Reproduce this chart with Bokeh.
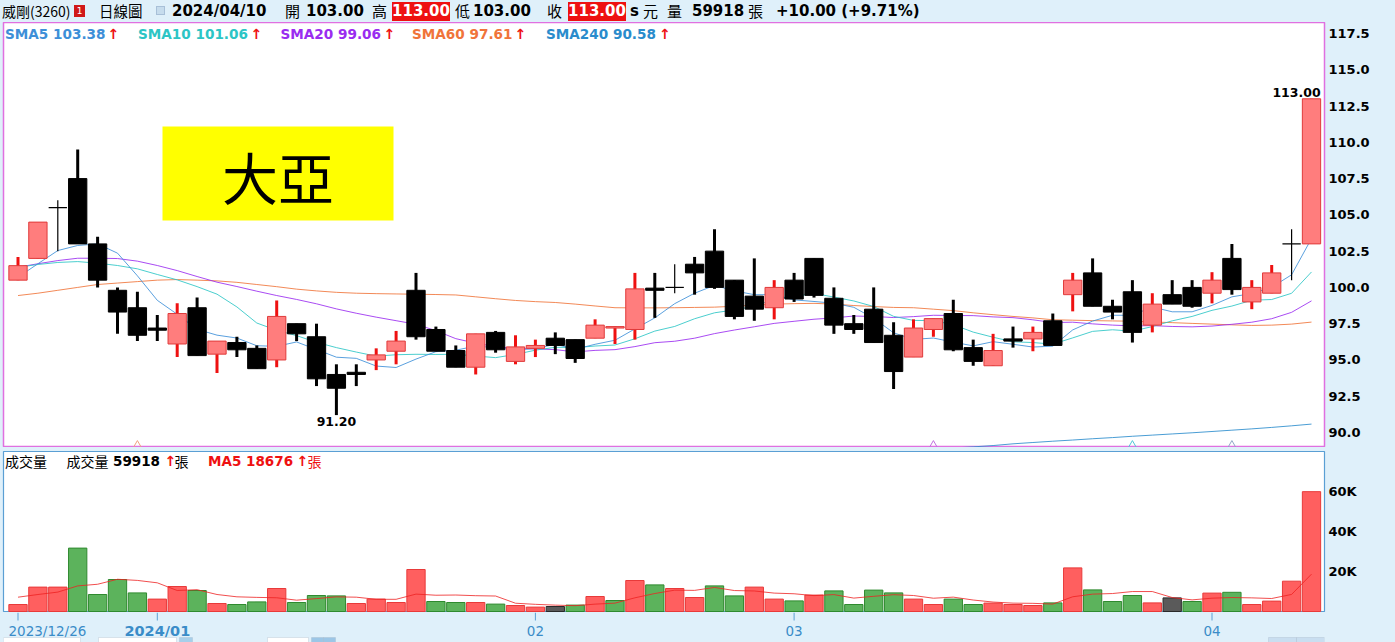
import numpy as np
import pandas as pd
from bokeh.plotting import figure
from bokeh.models import (ColumnDataSource, Range1d, FixedTicker, Label,
                          BoxAnnotation, Div, PrintfTickFormatter)
from bokeh.layouts import column
from bokeh.embed import file_html
from bokeh.resources import INLINE
from bokeh.core.properties import value

# ---------------- data ----------------
opens = [100.5, 102.0, 105.5, 107.5, 103.0, 99.8, 98.6, 97.2, 96.1, 98.6,
         95.4, 96.2, 95.8, 95.0, 97.5, 96.6, 94.0, 94.15, 95.0, 95.6,
         99.8, 97.1, 95.65, 94.5, 96.9, 94.9, 95.8, 96.5, 96.4, 96.5,
         97.2, 97.1, 99.95, 100.0, 101.6, 102.5, 100.5, 99.4, 98.6, 100.5,
         102.0, 99.25, 97.5, 98.5, 96.7, 95.2, 97.1, 98.2, 95.85, 94.6,
         96.45, 96.45, 97.7, 99.5, 101.0, 98.7, 99.7, 97.4, 99.5, 100.0,
         99.6, 102.0, 99.0, 99.6, 103.0, 103.0]
highs = [102.1, 104.5, 106.0, 109.5, 103.5, 100.0, 99.7, 98.1, 98.9, 99.3,
         96.3, 96.6, 96.0, 99.1, 97.5, 97.5, 94.7, 94.7, 95.8, 97.0,
         101.0, 97.3, 96.0, 96.8, 97.0, 96.7, 96.4, 96.9, 96.4, 97.8,
         97.3, 101.0, 101.0, 101.6, 102.1, 104.0, 100.5, 102.0, 100.5, 101.0,
         102.0, 100.0, 98.1, 100.0, 97.6, 97.8, 97.85, 99.15, 96.4, 96.8,
         97.3, 97.3, 98.2, 101.0, 102.0, 99.15, 100.5, 99.6, 100.5, 100.5,
         101.05, 103.0, 100.5, 101.55, 104.0, 113.0]
lows = [100.5, 102.0, 102.5, 103.0, 100.0, 96.8, 96.3, 96.3, 95.2, 95.3,
        94.1, 95.2, 94.4, 94.5, 96.3, 93.2, 91.2, 93.2, 94.3, 94.7,
        96.4, 95.6, 94.5, 94.0, 95.5, 94.7, 95.2, 95.4, 94.8, 96.5,
        96.1, 96.4, 97.9, 99.6, 99.5, 99.9, 97.8, 97.7, 97.8, 99.0,
        99.3, 96.8, 96.8, 96.2, 93.0, 95.2, 96.6, 95.6, 94.6, 94.6,
        95.85, 95.6, 96.0, 98.35, 98.7, 97.8, 96.2, 96.9, 98.85, 98.6,
        98.9, 99.5, 98.5, 99.6, 100.5, 103.0]
closes = [101.5, 104.5, 105.5, 103.0, 100.5, 98.3, 96.7, 97.05, 98.2, 95.3,
          96.3, 95.7, 94.4, 98.0, 96.8, 93.7, 93.05, 94.0, 95.35, 96.3,
          96.6, 95.6, 94.5, 96.8, 95.7, 95.9, 96.0, 96.0, 95.1, 97.4,
          97.3, 99.9, 99.8, 100.0, 101.0, 100.0, 98.0, 98.5, 100.0, 99.2,
          99.45, 97.4, 97.1, 96.2, 94.2, 97.2, 97.85, 95.7, 94.9, 95.65,
          96.3, 96.9, 96.0, 100.5, 98.7, 98.3, 96.9, 98.85, 98.85, 98.7,
          100.5, 99.85, 100.0, 101.0, 103.0, 113.0]
volumes = [3500, 12200, 12200, 31700, 8500, 16000, 9300, 6200, 12500, 10500,
           4000, 3500, 4800, 11500, 4500, 8000, 7800, 4000, 6200, 4500,
           21000, 5000, 4500, 4500, 3700, 3000, 2200, 2500, 3200, 7500,
           5500, 15500, 13300, 11500, 7000, 12800, 7800, 12200, 6200, 5300,
           8200, 10300, 3500, 10700, 9300, 6200, 3500, 6200, 3500, 4200,
           3500, 3000, 4300, 21800, 10800, 5000, 8000, 4300, 6800, 5000,
           9200, 9600, 3500, 5200, 15162, 59918]

# moving-average values before enough in-chart history exists
sma5_head = [100.70, 101.63, 102.54, 102.89]
sma10_head = [101.39, 101.58, 101.72, 101.78, 101.67, 101.51, 101.28, 100.89, 100.52]
sma20_head = [101.39, 101.63, 101.85, 102.01, 102.01, 101.99, 101.81, 101.51, 101.16,
              100.75, 100.36, 100.06, 99.74, 99.44, 99.17, 98.87, 98.52, 98.22, 97.95]
vol_ma5_head = [7150, 8500, 9700, 12800]
sma60 = [99.44, 99.6, 99.8, 100.0, 100.2, 100.3, 100.4, 100.5, 100.54, 100.5,
         100.45, 100.35, 100.2, 100.05, 99.88, 99.76, 99.66, 99.6, 99.57, 99.55,
         99.53, 99.51, 99.48, 99.35, 99.22, 99.1, 99.02, 98.96, 98.85, 98.72,
         98.6, 98.59, 98.59, 98.6, 98.62, 98.64, 98.7, 98.78, 98.85, 98.88,
         98.9, 98.85, 98.75, 98.68, 98.62, 98.6, 98.5, 98.4, 98.25, 98.12,
         98.0, 97.9, 97.77, 97.74, 97.71, 97.69, 97.67, 97.62, 97.57, 97.52,
         97.47, 97.42, 97.38, 97.40, 97.47, 97.61]
sma240_visible = [88.93, 89.01, 89.10, 89.22, 89.31, 89.40, 89.48, 89.57, 89.65, 89.74,
                  89.82, 89.90, 89.98, 90.07, 90.16, 90.25, 90.35, 90.46, 90.58]

legend_names = ["SMA5", "SMA10", "SMA20", "SMA60", "SMA240"]
legend_values = [103.38, 101.06, 99.06, 97.61, 90.58]
vol_ma5_last = 18676

marker_idx = [6, 46, 56, 61]
price_ticks = [90.0, 92.5, 95.0, 97.5, 100.0, 102.5, 105.0, 107.5, 110.0, 112.5, 115.0, 117.5]
vol_ticks = [20000, 40000, 60000]
vol_tick_labels = ["20K", "40K", "60K"]
date_tick_idx = [0, 7, 26, 39, 60]
date_tick_labels = ["2023/12/26", "2024/01", "02", "03", "04"]
last_date = "2024/04/10"

# ---------------- styling ----------------
BG = "#dff0fa"
NUM = "DejaVu Sans"
CJK = "Noto Sans CJK TC"
SMA_COLORS = ["#3d8fd8", "#2cc5c5", "#9a2cf0", "#f0743a", "#2a8ccc"]
MARKER_COLORS = ["#f0a080", "#c070e0", "#50c8d8", "#90a8c8"]
ARROW = "#ee1111"
AXIS_BLUE = "#3a8cc8"


def px2x(px):
    return (px - 17.5) / 19.9


def py2p(py):
    return 90 + (432 - py) / 14.509


def py2v(py):
    return (611 - py) * 500


n = len(closes)
idx = list(range(n))


def rolling_with_head(vals, window, head):
    s = pd.Series(vals, dtype=float).rolling(window).mean().tolist()
    for i, h in enumerate(head):
        s[i] = h
    return s


sma5 = rolling_with_head(closes, 5, sma5_head)
sma10 = rolling_with_head(closes, 10, sma10_head)
sma20 = rolling_with_head(closes, 20, sma20_head)
vol_ma5 = rolling_with_head(volumes, 5, vol_ma5_head)
sma240 = [np.nan] * (n - len(sma240_visible)) + sma240_visible

x_range = Range1d(px2x(3), px2x(1324))

# ---------------- price panel ----------------
p = figure(width=1395, height=425, x_range=x_range,
           y_range=Range1d(py2p(447), py2p(22)),
           x_axis_location=None, y_axis_location="right",
           toolbar_location=None, output_backend="svg",
           min_border_left=3, min_border_right=71, min_border_top=0, min_border_bottom=0)
p.background_fill_color = "white"
p.border_fill_color = BG
p.outline_line_color = "#e070e0"
p.outline_line_width = 1.5
p.xgrid.visible = False
p.ygrid.visible = False
ax = p.yaxis[0]
ax.ticker = FixedTicker(ticks=price_ticks)
ax.formatter = PrintfTickFormatter(format="%.1f")
ax.axis_line_color = None
ax.major_tick_line_color = None
ax.minor_tick_line_color = None
ax.major_tick_out = 0
ax.major_tick_in = 0
ax.major_label_standoff = 4
ax.major_label_text_font = NUM
ax.major_label_text_font_style = "bold"
ax.major_label_text_font_size = "13px"
ax.major_label_text_color = "#000000"

# yellow annotation box
p.add_layout(BoxAnnotation(left=px2x(162), right=px2x(393), top=py2p(126), bottom=py2p(220),
                           fill_color="#ffff00", fill_alpha=1.0, line_color=None, level="underlay"))
p.add_layout(Label(x=px2x(277.5), y=py2p(175), text="大亞", text_font=CJK,
                   text_font_size="56px", text_align="center", text_baseline="middle",
                   text_color="#000000"))

# moving average lines
for vals, col in zip([sma60, sma240, sma20, sma10, sma5],
                     [SMA_COLORS[3], SMA_COLORS[4], SMA_COLORS[2], SMA_COLORS[1], SMA_COLORS[0]]):
    p.line(idx, vals, line_color=col, line_width=1, line_alpha=0.85)

up_i = [i for i in idx if closes[i] > opens[i]]
dn_i = [i for i in idx if closes[i] < opens[i]]
dj_i = [i for i in idx if closes[i] == opens[i]]


def sub(ids):
    return dict(x=ids, o=[opens[i] for i in ids], c=[closes[i] for i in ids],
                h=[highs[i] for i in ids], l=[lows[i] for i in ids],
                x0=[i - 0.46 for i in ids], x1=[i + 0.46 for i in ids])


up_src = ColumnDataSource(sub(up_i))
dn_src = ColumnDataSource(sub(dn_i))
dj_src = ColumnDataSource(sub(dj_i))

BW = 0.92
p.segment(x0="x", y0="l", x1="x", y1="h", source=up_src, line_color="#ee1111", line_width=3)
p.vbar(x="x", width=BW, bottom="o", top="c", source=up_src,
       fill_color="#ff7d7d", line_color="#e03a3a", line_width=1)
p.segment(x0="x", y0="l", x1="x", y1="h", source=dn_src, line_color="#000000", line_width=3)
p.vbar(x="x", width=BW, bottom="o", top="c", source=dn_src,
       fill_color="#000000", line_color="#000000", line_width=1)
p.segment(x0="x", y0="l", x1="x", y1="h", source=dj_src, line_color="#000000", line_width=1.2)
p.segment(x0="x0", y0="c", x1="x1", y1="c", source=dj_src, line_color="#000000", line_width=1.2)

# bottom chevron markers
p.scatter(x=marker_idx, y=[py2p(447)] * len(marker_idx), marker="triangle", size=12,
          fill_color=None, line_color=MARKER_COLORS, line_width=1)

# high / low labels
hi_i = int(np.argmax(highs))
lo_i = int(np.argmin(lows))
p.add_layout(Label(x=hi_i + 0.46, y=highs[hi_i] + 0.15, text=f"{highs[hi_i]:.2f}",
                   text_font=NUM, text_font_style="bold", text_font_size="12.5px",
                   text_align="right", text_baseline="bottom", text_color="#000000"))
p.add_layout(Label(x=lo_i, y=lows[lo_i] - 0.1, text=f"{lows[lo_i]:.2f}",
                   text_font=NUM, text_font_style="bold", text_font_size="12.5px",
                   text_align="center", text_baseline="top", text_color="#000000"))

# SMA legend row
leg_px = [4.5, 137.5, 280, 411.5, 545.5]
arrow_px = [107, 250, 383, 514, 658.5]
for name, val, col, lx, axp in zip(legend_names, legend_values, SMA_COLORS, leg_px, arrow_px):
    p.add_layout(Label(x=px2x(lx), y=py2p(33), text=f"{name} {val:.2f}", text_font=NUM,
                       text_font_style="bold", text_font_size="13.6px", text_color=col,
                       text_align="left", text_baseline="middle"))
    p.add_layout(Label(x=px2x(axp), y=py2p(33), text="↑", text_font=NUM,
                       text_font_style="bold", text_font_size="14px", text_color=ARROW,
                       text_align="left", text_baseline="middle"))

# ---------------- volume panel ----------------
v = figure(width=1395, height=165, x_range=x_range,
           y_range=Range1d(py2v(612), py2v(451)),
           x_axis_location=None, y_axis_location="right",
           toolbar_location=None, output_backend="svg",
           min_border_left=3, min_border_right=71, min_border_top=4, min_border_bottom=0)
v.background_fill_color = "white"
v.border_fill_color = BG
v.outline_line_color = "#5a9fd4"
v.outline_line_width = 1.2
v.xgrid.visible = False
v.ygrid.visible = False

vy = v.yaxis[0]
vy.ticker = FixedTicker(ticks=vol_ticks)
vy.major_label_overrides = {t: s for t, s in zip(vol_ticks, vol_tick_labels)}
vy.axis_line_color = None
vy.major_tick_line_color = None
vy.minor_tick_line_color = None
vy.major_tick_out = 0
vy.major_tick_in = 0
vy.major_label_standoff = 4
vy.major_label_text_font = NUM
vy.major_label_text_font_style = "bold"
vy.major_label_text_font_size = "13px"
vy.major_label_text_color = "#000000"

vfill, vline = [], []
for i in idx:
    if i == 0 or closes[i] > closes[i - 1]:
        vfill.append("#ff5f5f"); vline.append("#e83a3a")
    elif closes[i] < closes[i - 1]:
        vfill.append("#5cb35c"); vline.append("#2f8a2f")
    else:
        vfill.append("#5a5a5a"); vline.append("#2a2a2a")
vsrc = ColumnDataSource(dict(x=idx, v=volumes, f=vfill, l=vline))
v.vbar(x="x", width=BW, bottom=0, top="v", source=vsrc, fill_color="f", line_color="l", line_width=1)
v.line(idx, vol_ma5, line_color="#ee2222", line_width=1, line_alpha=0.8)

ly = py2v(460.7)
v.add_layout(Label(x=px2x(4.5), y=ly, text="成交量", text_font=CJK, text_font_size="14px",
                   text_color="#000000", text_align="left", text_baseline="middle"))
v.add_layout(Label(x=px2x(66), y=ly, text="成交量", text_font=CJK, text_font_size="14px",
                   text_color="#000000", text_align="left", text_baseline="middle"))
v.add_layout(Label(x=px2x(112.5), y=ly, text=f"{volumes[-1]}", text_font=NUM, text_font_size="13.5px",
                   text_font_style="bold", text_color="#000000", text_align="left", text_baseline="middle"))
v.add_layout(Label(x=px2x(164), y=ly, text="↑", text_font=NUM, text_font_size="14px",
                   text_font_style="bold", text_color=ARROW, text_align="left", text_baseline="middle"))
v.add_layout(Label(x=px2x(174), y=ly, text="張", text_font=CJK, text_font_size="14px",
                   text_color="#000000", text_align="left", text_baseline="middle"))
v.add_layout(Label(x=px2x(207.6), y=ly, text=f"MA5 {vol_ma5_last}", text_font=NUM, text_font_size="13.5px",
                   text_font_style="bold", text_color=ARROW, text_align="left", text_baseline="middle"))
v.add_layout(Label(x=px2x(296), y=ly, text="↑", text_font=NUM, text_font_size="14px",
                   text_font_style="bold", text_color=ARROW, text_align="left", text_baseline="middle"))
v.add_layout(Label(x=px2x(307), y=ly, text="張", text_font=CJK, text_font_size="14px",
                   text_color=ARROW, text_align="left", text_baseline="middle"))

# ---------------- date strip (tick marks + labels) ----------------
d = figure(width=1395, height=30, x_range=x_range, y_range=Range1d(30, 0),
           x_axis_location=None, y_axis_location=None,
           toolbar_location=None, output_backend="svg",
           min_border_left=3, min_border_right=71, min_border_top=0, min_border_bottom=0)
d.background_fill_color = BG
d.border_fill_color = BG
d.outline_line_color = None
d.xgrid.visible = False
d.ygrid.visible = False
d.segment(x0=date_tick_idx, y0=[0] * len(date_tick_idx), x1=date_tick_idx,
          y1=[8] * len(date_tick_idx), line_color="#5a9fd4", line_width=1)
d.text(x=[px2x(8)], y=[18], text=[date_tick_labels[0]], text_align="left",
       text_baseline="middle", text_font=value(NUM), text_font_size="13.5px",
       text_color=AXIS_BLUE)
d.text(x=[date_tick_idx[1]], y=[18], text=[date_tick_labels[1]], text_align="center",
       text_baseline="middle", text_font=value(NUM), text_font_size="14.5px",
       text_font_style="bold", text_color=AXIS_BLUE)
d.text(x=date_tick_idx[2:], y=[18] * len(date_tick_idx[2:]), text=date_tick_labels[2:],
       text_align="center", text_baseline="middle", text_font=value(NUM),
       text_font_size="13.5px", text_color=AXIS_BLUE)

# partially visible control bar along the bottom edge (decoration)
for lpx, rpx, fc in [(3, 80, "#ffffff"), (98, 176, "#ffffff"), (179, 192, "#a6cfea"),
                     (267, 308, "#ffffff"), (311, 323, "#9cc6e6"), (323, 335, "#9cc6e6"),
                     (1268, 1296, "#c9def0"), (1296, 1324, "#c9def0")]:
    d.add_layout(BoxAnnotation(left=px2x(lpx), right=px2x(rpx), top=25, bottom=31,
                               fill_color=fc, fill_alpha=1.0, line_color="#9fb0bf", line_width=1))

# ---------------- header ----------------
def span(left, text, size=14.5, bold=False, font=NUM, color="#000000"):
    return (f'<span style="position:absolute;left:{left}px;top:0px;height:22px;line-height:22px;'
            f"font-family:'{font}';font-size:{size}px;font-weight:{'bold' if bold else 'normal'};"
            f'color:{color};white-space:nowrap;">{text}</span>')


def redbox(left, text):
    return (f'<span style="position:absolute;left:{left}px;top:2px;width:58px;height:19px;'
            f"line-height:19px;background:#ee1111;color:#ffffff;font-family:'{NUM}';"
            f'font-size:15px;font-weight:bold;text-align:center;">{text}</span>')


chg = closes[-1] - closes[-2]
pct = chg / closes[-2] * 100
hdr = (f'<div style="position:relative;width:1395px;height:22px;background:{BG};overflow:hidden;">'
       + span(2, "威剛(3260)", 14, font=CJK)
       + '<span style="position:absolute;left:74px;top:5px;width:11px;height:12px;background:#d01818;'
         'color:#fff;font-size:9px;line-height:12px;text-align:center;font-family:DejaVu Sans;">1</span>'
       + span(99, "日線圖", 14.5, font=CJK)
       + '<span style="position:absolute;left:156px;top:6px;width:9px;height:9px;background:#c6dced;'
         'border:1px solid #a8c0d8;"></span>'
       + span(172, last_date, 15, bold=True)
       + span(285, "開", 15, font=CJK)
       + span(306, f"{opens[-1]:.2f}", 15, bold=True)
       + span(372, "高", 15, font=CJK)
       + redbox(392, f"{highs[-1]:.2f}")
       + span(455, "低", 15, font=CJK)
       + span(473, f"{lows[-1]:.2f}", 15, bold=True)
       + span(547, "收", 15, font=CJK)
       + redbox(568, f"{closes[-1]:.2f}")
       + span(630, "s", 15, bold=True)
       + span(643, "元", 15, font=CJK)
       + span(667, "量", 15, font=CJK)
       + span(692, f"{volumes[-1]}", 15, bold=True)
       + span(748, "張", 15, font=CJK)
       + span(776, f"{chg:+.2f} ({pct:+.2f}%)", 15, bold=True)
       + '</div>')
header = Div(text=hdr, width=1395, height=22, margin=(0, 0, 0, 0))

layout = column(header, p, v, d, spacing=0,
                styles={"position": "absolute", "left": "0px", "top": "0px",
                        "background-color": BG})

open("out.html", "w").write(file_html(layout, INLINE))
